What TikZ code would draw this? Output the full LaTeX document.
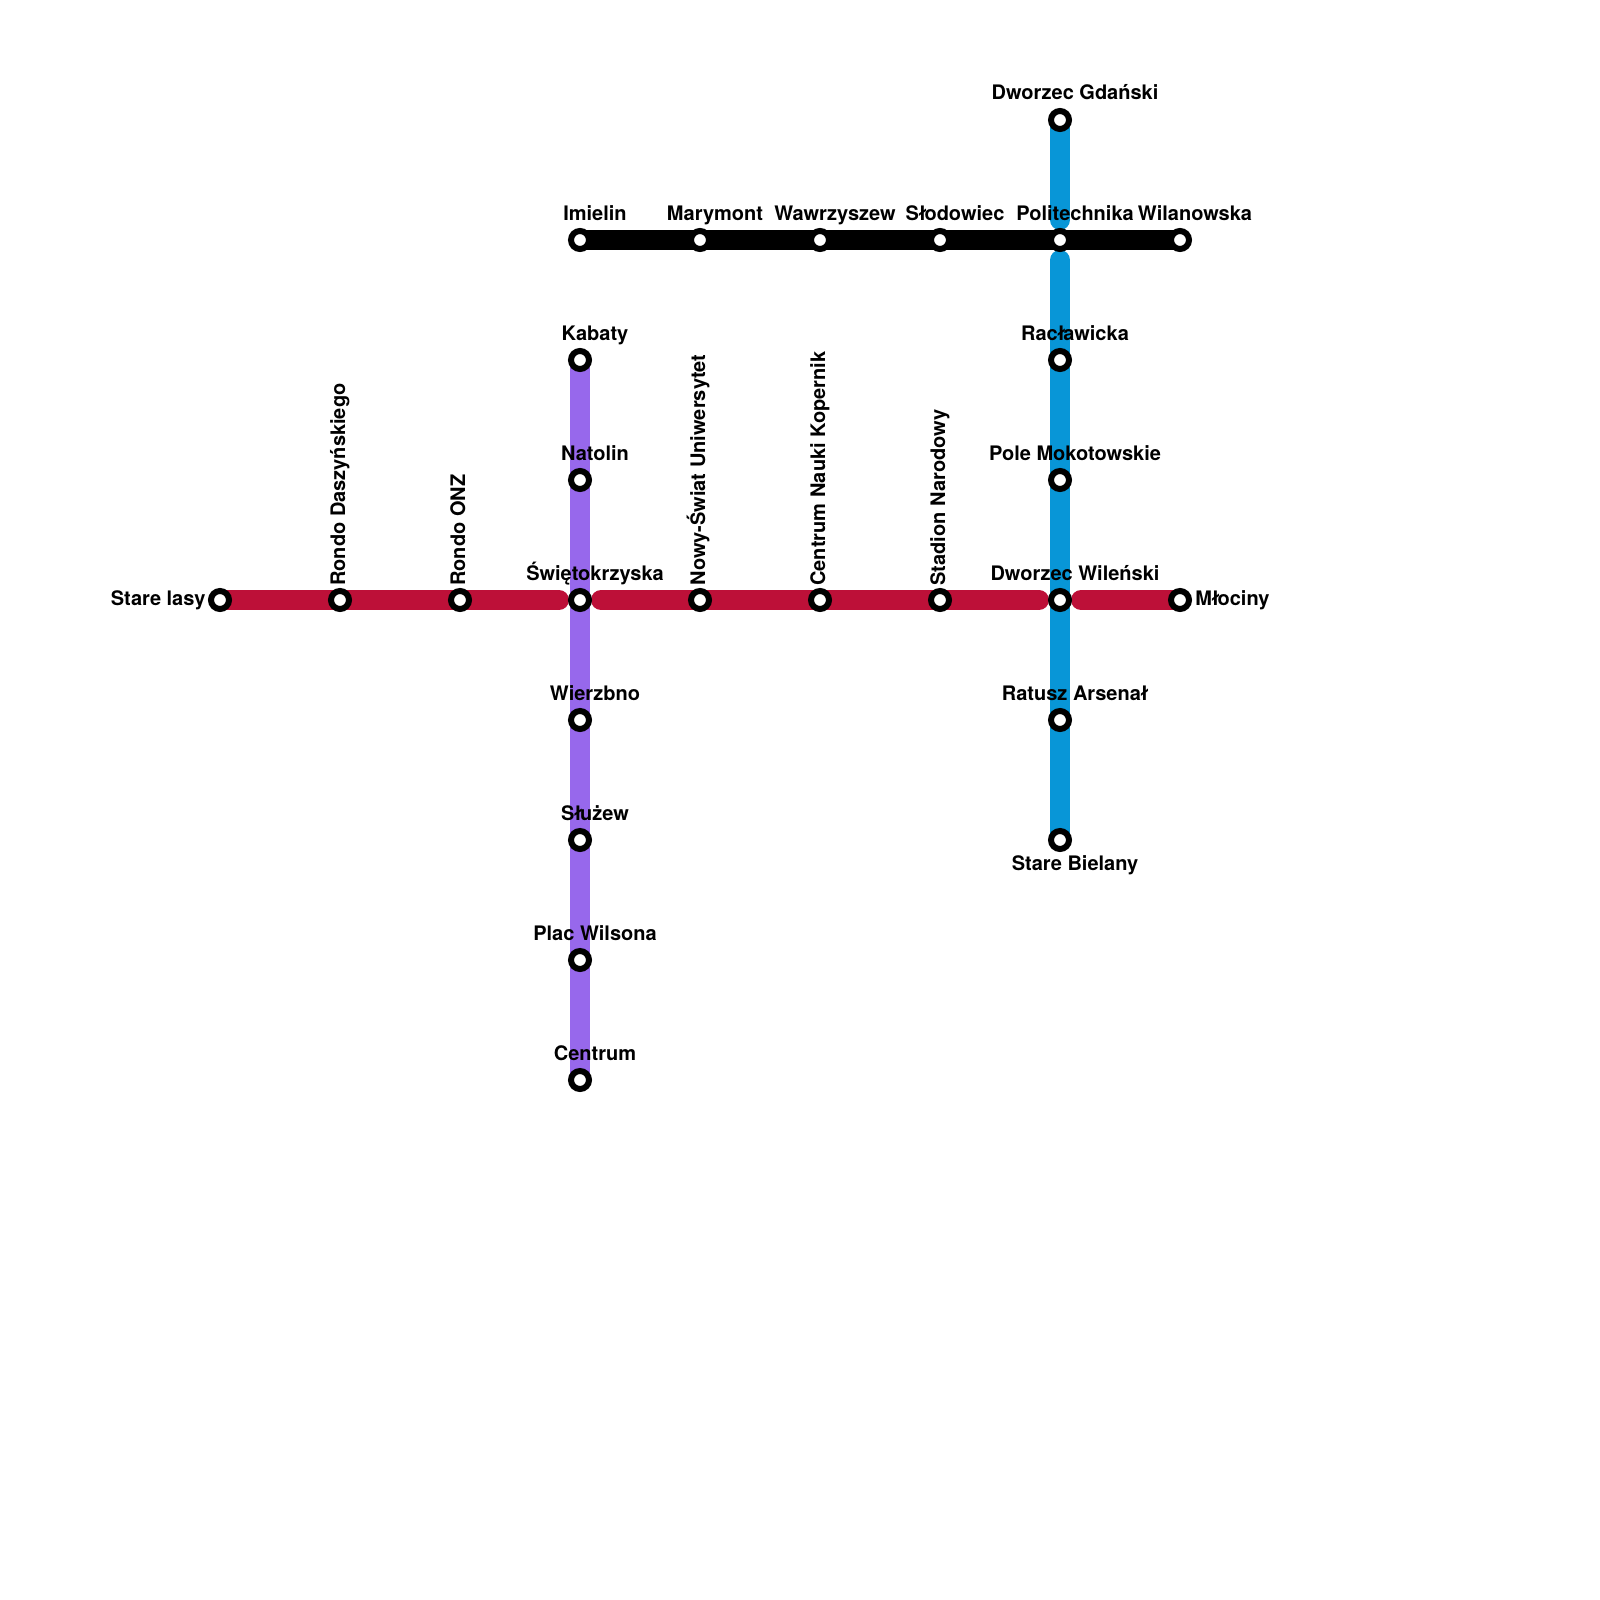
\documentclass[tikz,border=0pt]{standalone}
\usepackage{fontspec}
\setmainfont{TeX Gyre Heros}
\usetikzlibrary{backgrounds}
\definecolor{redl}{HTML}{BD1038}
\definecolor{purplel}{HTML}{9768EC}
\definecolor{bluel}{HTML}{0896D7}
\newcommand{\narrowl}{\kern-.3ptł\kern-1.1pt}
\tikzset{
  x=0.5pt,y=-0.5pt,
  stn/.style={circle,draw=black,fill=white,line width=3pt,minimum size=9pt,inner sep=0pt},
  lab/.style={font=\fontsize{10}{12}\selectfont\bfseries,inner sep=0pt,text=black,yshift=-0.5pt},
  top/.style={lab,anchor=base},
  up/.style={lab,anchor=base west,rotate=90},
  metro/.style={line width=10pt,line cap=round},
  gapend/.style={shorten >=10.5pt},
  gapstart/.style={shorten <=10.5pt},
  gapbluea/.style={shorten >=10pt},
  gapblueb/.style={shorten <=10pt},
}
\begin{document}
\begin{tikzpicture}
\useasboundingbox (0,0) rectangle (1600,1600);
% stations: red line
\node[stn] (sl) at (220,600) {};
\node[stn] (rd) at (340,600) {};
\node[stn] (ro) at (460,600) {};
\node[stn] (sw) at (580,600) {};
\node[stn] (ns) at (700,600) {};
\node[stn] (cn) at (820,600) {};
\node[stn] (sn) at (940,600) {};
\node[stn] (dw) at (1060,600) {};
\node[stn] (ml) at (1180,600) {};
% black line
\node[stn] (im) at (580,240) {};
\node[stn] (ma) at (700,240) {};
\node[stn] (wa) at (820,240) {};
\node[stn] (sd) at (940,240) {};
\node[stn] (po) at (1060,240) {};
\node[stn] (wi) at (1180,240) {};
% purple line
\node[stn] (ka) at (580,360) {};
\node[stn] (na) at (580,480) {};
\node[stn] (wb) at (580,720) {};
\node[stn] (su) at (580,840) {};
\node[stn] (pw) at (580,960) {};
\node[stn] (ce) at (580,1080) {};
% blue line
\node[stn] (dg) at (1060,120) {};
\node[stn] (ra) at (1060,360) {};
\node[stn] (pm) at (1060,480) {};
\node[stn] (ar) at (1060,720) {};
\node[stn] (sb) at (1060,840) {};
\begin{scope}[on background layer]
\fill[white] (0,0) rectangle (1600,1600);
\draw[metro,purplel] (ka.center) -- (na.center) -- (sw.center) -- (wb.center) -- (su.center) -- (pw.center) -- (ce.center);
\draw[metro,bluel,gapbluea] (dg.center) -- (po.center);
\draw[metro,bluel,gapblueb] (po.center) -- (ra.center);
\draw[metro,bluel] (ra.center) -- (pm.center) -- (dw.center) -- (ar.center) -- (sb.center);
\draw[metro,redl,gapend] (sl.center) -- (sw.center);
\draw[metro,redl,gapstart,gapend] (sw.center) -- (dw.center);
\draw[metro,redl,gapstart] (dw.center) -- (ml.center);
\draw[metro,black] (im.center) -- (wi.center);
\end{scope}
% horizontal labels
\node[top] (t1) at (595,219) {Imielin};
\node[top] (t2) at (715,219) {Marymont};
\node[top] (t3) at (835,219) {Wawrzyszew};
\node[top] (t4) at (955,219) {S\narrowl odowiec};
\node[top] (t5) at (1075,219) {Politechnika};
\node[top] (t6) at (1195,219) {Wilanowska};
\node[top] (t7) at (1075,99) {Dworzec Gdański};
\node[top] (t8) at (595,339) {Kabaty};
\node[top] (t9) at (595,459) {Natolin};
\node[top] (t10) at (595,579) {Świętokrzyska};
\node[top] (t11) at (595,699) {Wierzbno};
\node[top] (t12) at (595,819) {S\narrowl użew};
\node[top] (t13) at (595,939) {Plac Wilsona};
\node[top] (t14) at (595,1059) {Centrum};
\node[top] (t15) at (1075,339) {Rac\narrowl awicka};
\node[top] (t16) at (1075,459) {Pole Mokotowskie};
\node[top] (t17) at (1075,579) {Dworzec Wileński};
\node[top] (t18) at (1075,699) {Ratusz Arsena\narrowl\kern.8pt};
\node[top] (t19) at (1075,869) {Stare Bielany};
\node[lab,anchor=base east] (t20) at (206,604) {Stare lasy};
\node[lab,anchor=base west] (t21) at (1195,604) {M\narrowl ociny};
% rotated labels
\node[up] (t22) at (345,585) {Rondo Daszyńskiego};
\node[up] (t23) at (465,585) {Rondo ONZ};
\node[up] (t24) at (705,585) {Nowy-Świat Uniwersytet};
\node[up] (t25) at (825,585) {Centrum Nauki Kopernik};
\node[up] (t26) at (945,585) {Stadion Narodowy};
\end{tikzpicture}
\end{document}
